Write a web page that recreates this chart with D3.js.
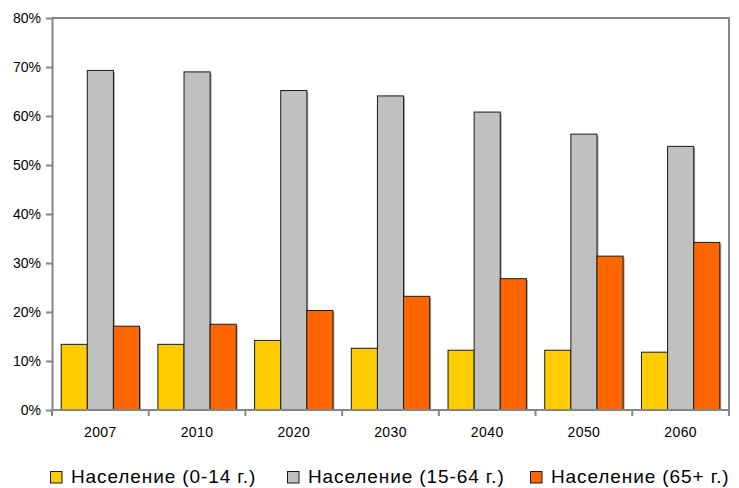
<!DOCTYPE html>
<html>
<head>
<meta charset="utf-8">
<script src="https://cdn.jsdelivr.net/npm/d3@7"></script>
<style>
  html, body { margin: 0; padding: 0; background: #fff; }
  svg { display: block; font-family: "Liberation Sans", Arial, sans-serif; }
</style>
</head>
<body>
<svg id="chart" width="739" height="488"></svg>
<script>
// Population structure by age group, share of total (%)
const years = ["2007", "2010", "2020", "2030", "2040", "2050", "2060"];
const seriesNames = ["Население (0-14 г.)", "Население (15-64 г.)", "Население (65+ г.)"];
const age0to14 = [13.4, 13.4, 14.2, 12.6, 12.2, 12.2, 11.8];
const age15to64 = [69.3, 69.0, 65.2, 64.1, 60.8, 56.3, 53.8];
const age65plus = [17.1, 17.5, 20.3, 23.2, 26.8, 31.4, 34.2];
const yTicks = [0, 10, 20, 30, 40, 50, 60, 70, 80];
const colors = ["#FFCC00", "#C0C0C0", "#FF6600"];

const seriesValues = [age0to14, age15to64, age65plus];

const svg = d3.select("#chart");
const margin = { left: 52, right: 10, top: 18, bottom: 78 };
const W = 739, H = 488;
const x0 = margin.left, x1 = W - margin.right;
const y0 = H - margin.bottom, y1 = margin.top;

const x = d3.scaleBand().domain(years).range([x0, x1])
  .paddingInner(0.19).paddingOuter(0.095);
const xs = d3.scaleBand().domain(d3.range(seriesNames.length)).range([0, x.bandwidth()]);
const y = d3.scaleLinear().domain([0, 80]).range([y0, y1]);

const axisColor = "#868686";

// plot frame (top and right)
svg.append("path")
  .attr("d", `M${x0},${y1}H${x1}V${y0}`)
  .attr("fill", "none").attr("stroke", axisColor).attr("stroke-width", 2);

// bars
const groups = svg.append("g").selectAll("g")
  .data(years).join("g")
  .attr("transform", d => `translate(${x(d)},0)`);

groups.selectAll("rect.shadow")
  .data((d, i) => seriesValues.map((s, k) => ({ k, v: s[i] })))
  .join("rect")
  .attr("class", "shadow")
  .attr("x", d => xs(d.k) + 1.5)
  .attr("y", d => y(d.v) + 1.5)
  .attr("width", xs.bandwidth())
  .attr("height", d => y0 - y(d.v) - 1.5)
  .attr("fill", "#a8a8a8");

groups.selectAll("rect.bar")
  .data((d, i) => seriesValues.map((s, k) => ({ k, v: s[i] })))
  .join("rect")
  .attr("class", "bar")
  .attr("x", d => xs(d.k))
  .attr("y", d => y(d.v))
  .attr("width", xs.bandwidth())
  .attr("height", d => y0 - y(d.v))
  .attr("fill", d => colors[d.k])
  .attr("stroke", "#1a1a1a")
  .attr("stroke-width", 1);

// y axis
const yAxis = d3.axisLeft(y).tickValues(yTicks).tickFormat(d => d + "%").tickSize(6).tickSizeOuter(0);
const gy = svg.append("g").attr("transform", `translate(${x0},0)`).call(yAxis);
gy.select(".domain").attr("stroke", axisColor).attr("stroke-width", 2);
gy.selectAll(".tick line").attr("stroke", axisColor).attr("stroke-width", 2);
gy.selectAll(".tick text").attr("fill", "#000").attr("font-size", 14)
  .attr("font-family", "Liberation Sans, Arial, sans-serif").attr("x", -11);

// x axis: ticks at category boundaries
const gx = svg.append("g").attr("transform", `translate(0,${y0})`);
gx.append("line").attr("x1", x0).attr("x2", x1).attr("y1", 0).attr("y2", 0)
  .attr("stroke", axisColor).attr("stroke-width", 2);
const step = x.step();
const boundaries = years.map(d => x(d) - step * 0.095).concat([x1]);
gx.selectAll("line.tick").data(boundaries).join("line")
  .attr("class", "tick")
  .attr("x1", d => d).attr("x2", d => d).attr("y1", 0).attr("y2", 6)
  .attr("stroke", axisColor).attr("stroke-width", 2);
gx.selectAll("text").data(years).join("text")
  .attr("x", d => x(d) + x.bandwidth() / 2)
  .attr("y", 27)
  .attr("text-anchor", "middle")
  .attr("font-size", 14)
  .attr("letter-spacing", 0.4)
  .attr("fill", "#000")
  .text(d => d);

// legend
const legendX = [50, 287, 530];
const legend = svg.append("g").selectAll("g").data(seriesNames).join("g")
  .attr("transform", (d, i) => `translate(${legendX[i]},471)`);
legend.append("rect")
  .attr("x", 0.5).attr("y", 0.5).attr("width", 11.5).attr("height", 11.5)
  .attr("fill", (d, i) => colors[i]).attr("stroke", "#1a1a1a").attr("stroke-width", 1);
legend.append("text")
  .attr("x", 21).attr("y", 12)
  .attr("font-size", 19)
  .attr("letter-spacing", 0.9)
  .attr("fill", "#000")
  .text(d => d);
</script>
</body>
</html>
